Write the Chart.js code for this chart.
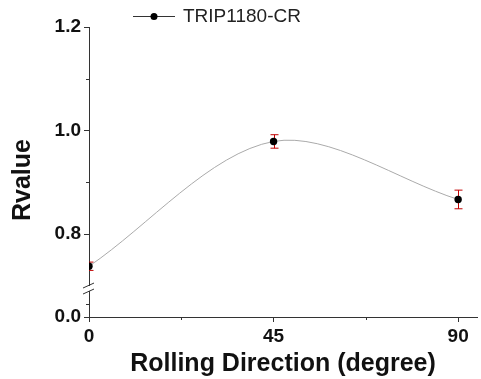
<!DOCTYPE html>
<html>
<head>
<meta charset="utf-8">
<script src="https://cdn.jsdelivr.net/npm/chart.js@4"></script>
<style>
  html, body { margin: 0; padding: 0; background: #fff; }
  #wrap { width: 481px; height: 379px; }
</style>
</head>
<body>
<div id="wrap"><canvas id="rvalueChart" width="481" height="379"></canvas></div>
<script>
// data
var directions = [0, 45, 90];
var rValues = [0.738, 0.979, 0.867];
var rErrors = [0.008, 0.013, 0.018];
var seriesLabel = 'TRIP1180-CR';

// axis ticks; the y axis is broken, its bottom (yAxisBottom) is labelled 0.0
var xTicks = [0, 45, 90];
var xMinorTicks = [22.5, 67.5];
var yAxisBottom = 0.64;
var yTicks = [yAxisBottom, 0.8, 1.0, 1.2];
var yTickLabels = ['0.0', '0.8', '1.0', '1.2'];
var yMinorTicks = [0.666, 0.9, 1.1];
var yBreakAt = 0.695;

var FONT = "'Liberation Sans', Arial, sans-serif";
var AXIS = '#333';

var extras = {
  id: 'extras',
  beforeDatasetsDraw: function (chart) {
    var ctx = chart.ctx, xs = chart.scales.x, ys = chart.scales.y, a = chart.chartArea;
    ctx.save();
    ctx.beginPath();
    ctx.rect(a.left, a.top, a.right - a.left, a.bottom - a.top);
    ctx.clip();
    ctx.strokeStyle = '#c00000';
    ctx.lineWidth = 1;
    for (var i = 0; i < rValues.length; i++) {
      var x = Math.round(xs.getPixelForValue(directions[i])) + 0.5;
      var y1 = ys.getPixelForValue(rValues[i] + rErrors[i]);
      var y2 = ys.getPixelForValue(rValues[i] - rErrors[i]);
      ctx.beginPath();
      ctx.moveTo(x, y1); ctx.lineTo(x, y2);
      ctx.moveTo(x - 4, y1); ctx.lineTo(x + 4, y1);
      ctx.moveTo(x - 4, y2); ctx.lineTo(x + 4, y2);
      ctx.stroke();
    }
    ctx.restore();
  },
  afterDraw: function (chart) {
    var ctx = chart.ctx, xs = chart.scales.x, ys = chart.scales.y, a = chart.chartArea;
    ctx.save();
    ctx.strokeStyle = AXIS;
    ctx.lineWidth = 1;
    // minor ticks
    ctx.beginPath();
    xMinorTicks.forEach(function (v) {
      var x = Math.round(xs.getPixelForValue(v)) + 0.5;
      ctx.moveTo(x, a.bottom); ctx.lineTo(x, a.bottom + 3);
    });
    yMinorTicks.forEach(function (v) {
      var y = Math.round(ys.getPixelForValue(v)) + 0.5;
      ctx.moveTo(a.left, y); ctx.lineTo(a.left - 3, y);
    });
    ctx.stroke();
    // axis break
    var yb = ys.getPixelForValue(yBreakAt);
    ctx.fillStyle = '#fff';
    ctx.fillRect(a.left - 2, yb - 2.5, 4, 5);
    ctx.beginPath();
    ctx.moveTo(a.left - 6, yb - 0.5); ctx.lineTo(a.left + 5, yb - 5.5);
    ctx.moveTo(a.left - 6, yb + 5.5); ctx.lineTo(a.left + 5, yb + 0.5);
    ctx.stroke();
    // y title
    ctx.fillStyle = '#111';
    ctx.font = 'bold 25px ' + FONT;
    ctx.textAlign = 'center';
    ctx.textBaseline = 'middle';
    ctx.translate(23, 180);
    ctx.rotate(-Math.PI / 2);
    ctx.fillText('Rvalue', 0, 0);
    ctx.restore();

    // legend
    ctx.save();
    ctx.strokeStyle = '#333';
    ctx.beginPath();
    ctx.moveTo(133, 16.5); ctx.lineTo(175, 16.5);
    ctx.stroke();
    ctx.fillStyle = '#000';
    ctx.beginPath();
    ctx.arc(154, 16.5, 3.5, 0, Math.PI * 2);
    ctx.fill();
    ctx.fillStyle = '#222';
    ctx.font = '19px ' + FONT;
    ctx.textAlign = 'left';
    ctx.textBaseline = 'middle';
    ctx.fillText(chart.data.datasets[0].label, 183, 17);
    ctx.restore();
  }
};

new Chart(document.getElementById('rvalueChart'), {
  type: 'line',
  data: {
    labels: directions,
    datasets: [{
      label: seriesLabel,
      data: directions.map(function (d, i) { return { x: d, y: rValues[i] }; }),
      borderColor: '#aaa',
      borderWidth: 1,
      tension: 0.32,
      pointRadius: 3.7,
      pointBackgroundColor: '#000',
      pointBorderColor: '#000',
      pointBorderWidth: 0
    }]
  },
  options: {
    responsive: false,
    animation: false,
    layout: { padding: { top: 27, right: 1, left: 0, bottom: 0 } },
    plugins: { legend: { display: false }, tooltip: { enabled: false } },
    scales: {
      x: {
        type: 'linear',
        min: 0,
        max: 94.6,
        afterBuildTicks: function (s) { s.ticks = xTicks.map(function (v) { return { value: v }; }); },
        afterFit: function (s) { s.height = 62; },
        grid: { display: true, drawOnChartArea: false, drawTicks: true, tickLength: 5, color: AXIS },
        border: { display: true, color: AXIS, width: 1 },
        ticks: {
          padding: 3,
          maxRotation: 0,
          color: '#111',
          font: { family: FONT, size: 19, weight: 'bold' }
        },
        title: {
          display: true,
          text: 'Rolling Direction (degree)',
          color: '#111',
          padding: { top: 0, bottom: 0 },
          font: { family: FONT, size: 25, weight: 'bold' }
        }
      },
      y: {
        type: 'linear',
        min: yAxisBottom,
        max: 1.2,
        afterBuildTicks: function (s) { s.ticks = yTicks.map(function (v) { return { value: v }; }); },
        afterFit: function (s) { s.width = 89; },
        grid: { display: true, drawOnChartArea: false, drawTicks: true, tickLength: 5, color: AXIS },
        border: { display: true, color: AXIS, width: 1 },
        ticks: {
          padding: 3,
          color: '#111',
          font: { family: FONT, size: 19, weight: 'bold' },
          callback: function (v, i) { return yTickLabels[i]; }
        }
      }
    }
  },
  plugins: [extras]
});
</script>
</body>
</html>
